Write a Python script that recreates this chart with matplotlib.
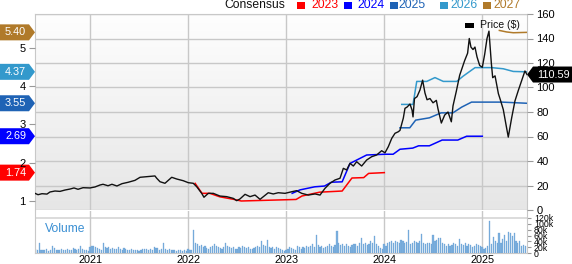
import matplotlib
matplotlib.use("Agg")
import numpy as np
import matplotlib.pyplot as plt
from matplotlib.patches import Polygon, Rectangle
from matplotlib.transforms import IdentityTransform

plt.rcParams["font.family"] = ["Liberation Sans", "DejaVu Sans"]

W, H = 572, 264

# x values are fractional years
x_start, x_end = 2020.436, 2025.456
years = [2021, 2022, 2023, 2024, 2025]

price_t = [
    2020.436, 2020.467, 2020.507, 2020.558, 2020.589, 2020.640, 2020.691, 2020.742,
    2020.793, 2020.834, 2020.875, 2020.926, 2020.997, 2021.048, 2021.099, 2021.130,
    2021.181, 2021.221, 2021.272, 2021.324, 2021.385, 2021.456, 2021.508, 2021.576,
    2021.660, 2021.677, 2021.711, 2021.762, 2021.831, 2021.882, 2021.949, 2022.000,
    2022.051, 2022.086, 2022.137, 2022.160, 2022.204, 2022.255, 2022.323, 2022.392,
    2022.459, 2022.494, 2022.527, 2022.579, 2022.630, 2022.681, 2022.732, 2022.816,
    2022.867, 2022.918, 2022.987, 2023.055, 2023.106, 2023.157, 2023.224, 2023.293,
    2023.344, 2023.395, 2023.446, 2023.497, 2023.548, 2023.582, 2023.616, 2023.650,
    2023.684, 2023.718, 2023.769, 2023.820, 2023.871, 2023.922, 2023.973, 2024.007,
    2024.041, 2024.076, 2024.109, 2024.143, 2024.160, 2024.194, 2024.211, 2024.232,
    2024.262, 2024.283, 2024.293, 2024.308, 2024.334, 2024.364, 2024.391, 2024.415,
    2024.436, 2024.466, 2024.497, 2024.531, 2024.548, 2024.582, 2024.616, 2024.650,
    2024.684, 2024.701, 2024.735, 2024.769, 2024.820, 2024.850, 2024.867, 2024.884,
    2024.905, 2024.925, 2024.946, 2024.973, 2025.000, 2025.024, 2025.048, 2025.068,
    2025.092, 2025.106, 2025.130, 2025.164, 2025.184, 2025.214, 2025.241, 2025.265,
    2025.299, 2025.333, 2025.367, 2025.401, 2025.435, 2025.456,
]
price_v = [
    13.6, 12.5, 13.3, 13.0, 14.7, 15.5, 15.2, 16.3,
    17.1, 18.0, 16.9, 18.2, 18.0, 18.8, 20.4, 21.0,
    19.8, 21.0, 19.6, 21.5, 22.6, 24.2, 26.7, 27.2,
    27.8, 26.0, 23.1, 21.8, 26.7, 25.3, 23.9, 22.3,
    21.8, 19.0, 13.6, 10.4, 13.6, 13.6, 11.4, 10.9,
    9.5, 7.6, 9.0, 12.8, 10.9, 12.2, 8.7, 14.1,
    13.1, 14.1, 13.6, 14.9, 15.8, 13.6, 12.2, 13.1,
    12.2, 17.7, 21.8, 24.5, 25.9, 34.0, 32.7, 38.1,
    35.9, 39.4, 35.9, 40.8, 43.5, 44.9, 48.4, 46.7,
    51.7, 58.5, 62.6, 63.9, 65.0, 75.0, 83.0, 84.0,
    86.5, 81.6, 76.0, 91.0, 92.5, 98.0, 106.0, 95.5,
    90.0, 91.0, 87.5, 89.5, 82.5, 71.0, 77.5, 80.0,
    72.0, 85.0, 97.0, 110.0, 122.0, 128.0, 140.0, 133.0,
    131.0, 133.0, 125.0, 118.0, 116.5, 127.0, 140.0, 146.0,
    120.0, 108.0, 109.5, 95.0, 90.0, 82.0, 70.0, 59.5,
    75.0, 89.0, 97.5, 105.5, 113.5, 110.59,
]

# consensus EPS estimates ($/share) by fiscal year
eps_labels = ["2023", "2024", "2025", "2026", "2027"]
eps_colors = ["#ff0000", "#0000ff", "#1f63b5", "#3399cc", "#b07a2a"]

eps23_t = [2022.07, 2022.14, 2022.22, 2022.32, 2022.47, 2022.54, 2023.10, 2023.16,
           2023.34, 2023.57, 2023.67, 2023.79, 2023.84, 2024.00]
eps23_v = [1.46, 1.20, 1.20, 1.11, 1.04, 1.00, 1.04, 1.13,
           1.23, 1.26, 1.60, 1.61, 1.72, 1.74]

eps24_t = [2023.06, 2023.14, 2023.29, 2023.39, 2023.46, 2023.57, 2023.65, 2023.82,
           2024.01, 2024.09, 2024.16, 2024.29, 2024.35, 2024.46, 2024.59, 2024.75,
           2024.84, 2025.00]
eps24_v = [1.20, 1.29, 1.37, 1.39, 1.49, 1.50, 1.98, 2.20,
           2.22, 2.22, 2.35, 2.38, 2.44, 2.44, 2.59, 2.59,
           2.69, 2.69]

eps25_t = [2024.16, 2024.26, 2024.32, 2024.46, 2024.58, 2024.70, 2024.79, 2024.89,
           2025.20, 2025.456]
eps25_v = [2.91, 2.91, 3.11, 3.17, 3.30, 3.30, 3.45, 3.58, 3.58, 3.55]

eps26_t = [2024.178, 2024.293, 2024.331, 2024.433, 2024.517, 2024.602, 2024.739,
           2024.806, 2024.926, 2025.096, 2025.214, 2025.316, 2025.456]
eps26_v = [3.52, 3.52, 4.12, 4.12, 4.22, 4.12, 4.12, 4.26, 4.48, 4.48, 4.45, 4.38, 4.37]

eps27_t = [2025.174, 2025.249, 2025.316, 2025.456]
eps27_v = [5.45, 5.41, 5.39, 5.40]

# weekly volume, thousands of shares
vol_start = 2020.44
volume_k = [
    14, 11, 34, 12, 10, 11, 13, 9, 12, 23, 18, 10, 12,
    11, 13, 10, 12, 14, 11, 12, 17, 13, 12, 14, 25, 15,
    12, 10, 8, 22, 26, 24, 20, 17, 14, 12, 34, 22, 18,
    20, 15, 17, 13, 16, 22, 14, 12, 18, 15, 12, 11, 13,
    10, 12, 11, 9, 12, 14, 13, 16, 10, 15, 12, 20, 17,
    18, 12, 15, 34, 14, 12, 13, 11, 12, 10, 9, 12, 10,
    8, 11, 9, 14, 12, 10, 78, 35, 32, 24, 28, 22, 26,
    18, 15, 20, 24, 30, 26, 22, 18, 16, 20, 36, 24, 20,
    18, 22, 16, 14, 20, 18, 24, 22, 18, 20, 16, 14, 18,
    22, 25, 20, 40, 28, 24, 45, 22, 18, 20, 16, 22, 18,
    14, 10, 8, 12, 16, 20, 18, 14, 12, 24, 20, 16, 22,
    18, 24, 20, 26, 30, 22, 62, 28, 20, 24, 18, 22, 26,
    30, 24, 20, 28, 75, 34, 28, 32, 24, 30, 26, 22, 28,
    32, 30, 26, 36, 50, 30, 34, 28, 32, 40, 36, 58, 30,
    26, 17, 14, 30, 24, 35, 38, 40, 36, 42, 38, 35, 44,
    40, 36, 38, 78, 32, 36, 40, 38, 34, 42, 65, 36, 30,
    34, 36, 30, 62, 40, 44, 52, 50, 36, 32, 26, 30, 24,
    28, 34, 30, 26, 48, 30, 28, 36, 24, 30, 28, 22, 26,
    30, 28, 24, 20, 14, 18, 24, 108, 30, 56, 40, 34, 67,
    34, 48, 62, 40, 73, 70, 58, 67, 42, 36, 43, 24, 28,
    26,
]

price_ticks = [0, 20, 40, 60, 80, 100, 120, 140, 160]
eps_ticks = [1, 2, 3, 4, 5]
vol_ticks = [0, 20, 40, 60, 80, 100, 120]

GRID = "#c8c8c8"
TICK = "#999999"

fig = plt.figure(figsize=(W / 100, H / 100), dpi=100)

left, right = 35, 527
top, p_bot = 14, 210
v_top, v_bot = 211, 253.3

price_rect = [left / W, 1 - p_bot / H, (right - left) / W, (p_bot - top) / H]
vol_rect = [left / W, 1 - v_bot / H, (right - left) / W, (v_bot - v_top) / H]

# background axes: gradient + grid in price scale
ax_bg = fig.add_axes(price_rect, zorder=0)
grad = np.linspace(0, 1, 256).reshape(-1, 1)
ax_bg.imshow(grad, cmap=matplotlib.colors.LinearSegmentedColormap.from_list(
    "g", ["#e6e6e6", "#fefefe"]), aspect="auto",
    extent=[x_start, x_end, 160, 0], zorder=0)
ax_bg.set_xlim(x_start, x_end)
ax_bg.set_ylim(0, 160)
for p in price_ticks:
    ax_bg.axhline(p, color=GRID, lw=1.0, zorder=1)
for yr in years:
    ax_bg.axvline(yr, color=GRID, lw=1.0, zorder=1)
ax_bg.set_xticks([])
ax_bg.set_yticks([])
for s in ["top", "left", "right"]:
    ax_bg.spines[s].set_color(GRID)
ax_bg.spines["bottom"].set_visible(False)

# EPS axis (left)
ax_eps = fig.add_axes(price_rect, zorder=1)
ax_eps.patch.set_visible(False)
ax_eps.set_xlim(x_start, x_end)
ax_eps.set_ylim(0.765, 5.879)
eps_t = [eps23_t, eps24_t, eps25_t, eps26_t, eps27_t]
eps_v = [eps23_v, eps24_v, eps25_v, eps26_v, eps27_v]
for t, v, c in zip(eps_t, eps_v, eps_colors):
    ax_eps.plot(t, v, color=c, lw=1.1, solid_joinstyle="round")
ax_eps.set_yticks(eps_ticks)
ax_eps.set_yticklabels([str(e) for e in eps_ticks])
ax_eps.tick_params(axis="y", length=4.3, width=0.8, color=TICK, pad=2.5, labelsize=8)
ax_eps.set_xticks([])
for s in ax_eps.spines.values():
    s.set_visible(False)

# price axis (right)
ax_p = fig.add_axes(price_rect, zorder=2)
ax_p.patch.set_visible(False)
ax_p.set_xlim(x_start, x_end)
ax_p.set_ylim(0, 160)
ax_p.plot(price_t, price_v, color="#111111", lw=1.0)
ax_p.yaxis.tick_right()
ax_p.set_yticks(price_ticks)
ax_p.set_yticklabels([str(p) for p in price_ticks])
ax_p.tick_params(axis="y", length=4.3, width=0.8, color=TICK, pad=2.5, labelsize=8)
ax_p.set_xticks([])
for s in ax_p.spines.values():
    s.set_visible(False)

# volume panel
ax_v = fig.add_axes(vol_rect, zorder=1)
ax_v.set_xlim(x_start, x_end)
ax_v.set_ylim(0, 142.6)
ax_v.axhspan(114.6, 123.4, color="#dcdcdc", lw=0, zorder=0)
for yr in years:
    ax_v.axvline(yr, color=GRID, lw=1.0, zorder=1)
vol_x = vol_start + np.arange(len(volume_k)) / 52.0
ax_v.bar(vol_x, volume_k, width=0.62 / 52, color="#7eb0de", edgecolor="#5f9bd2",
         lw=0.2, zorder=2)
ax_v.yaxis.tick_right()
ax_v.set_yticks(vol_ticks)
ax_v.set_yticklabels(["0"] + [f"{v}k" for v in vol_ticks[1:]])
ax_v.tick_params(axis="y", length=3, width=0.8, color=TICK, pad=2, labelsize=6.3)
ax_v.set_xticks(years)
ax_v.set_xticklabels([str(y) for y in years])
ax_v.tick_params(axis="x", length=0, pad=1.0, labelsize=7.8)
ax_v.spines["top"].set_visible(False)
for s in ["left", "right", "bottom"]:
    ax_v.spines[s].set_color(GRID)
ax_v.text(45 / W, 1 - 229.3 / H, "Volume", transform=fig.transFigure,
          ha="left", va="center", fontsize=8.7, color="#3a8fd3")

# left-side EPS badges (arrow pointing right, at axis edge)
for v, c in zip([vv[-1] for vv in eps_v], eps_colors):
    yd = ax_eps.transData.transform((x_start, v))[1]
    h = 8
    poly = Polygon([(0, yd - h), (left - 6, yd - h), (left, yd), (left - 6, yd + h),
                    (0, yd + h)], closed=True, facecolor=c, edgecolor="none",
                   transform=IdentityTransform())
    fig.add_artist(poly)
    fig.text((left - 6) / 2 / W + 0.002, yd / H, f"{v:.2f}", ha="center", va="center",
             color="white", fontsize=7.8)

# right-side price badge
last = price_v[-1]
yd = ax_p.transData.transform((x_end, last))[1]
h = 8
poly = Polygon([(right, yd), (right + 6, yd - h), (W, yd - h), (W, yd + h),
                (right + 6, yd + h)], closed=True, facecolor="#000000",
               edgecolor="none", transform=IdentityTransform())
fig.add_artist(poly)
fig.text(553 / W, yd / H, f"{last:.2f}", ha="center", va="center",
         color="white", fontsize=7.8)

# top consensus legend
ly = 1 - 5 / H
fig.text(285 / W, ly, "Consensus", ha="right", va="center", fontsize=8.7, color="#111111")
leg_sq_x = [297, 344, 390, 440, 483]
leg_tx_x = [311, 357, 398, 450, 493]
for lab, c, sx, tx in zip(eps_labels, eps_colors, leg_sq_x, leg_tx_x):
    fig.add_artist(Rectangle((sx / W, 1 - 8.5 / H), 8 / W, 7 / H, facecolor=c,
                             edgecolor="none", transform=fig.transFigure))
    fig.text(tx / W, ly, lab, ha="left", va="center", fontsize=8.7, color=c)

# price legend inside plot
fig.add_artist(Rectangle((465 / W, 1 - 28 / H), 9 / W, 5 / H, facecolor="#000000",
                         edgecolor="none", transform=fig.transFigure, zorder=5))
fig.text(480 / W, 1 - 25.5 / H, "Price ($)", ha="left", va="center", fontsize=7.6,
         color="#111111", zorder=5)

fig.savefig("out.png", dpi=100)
